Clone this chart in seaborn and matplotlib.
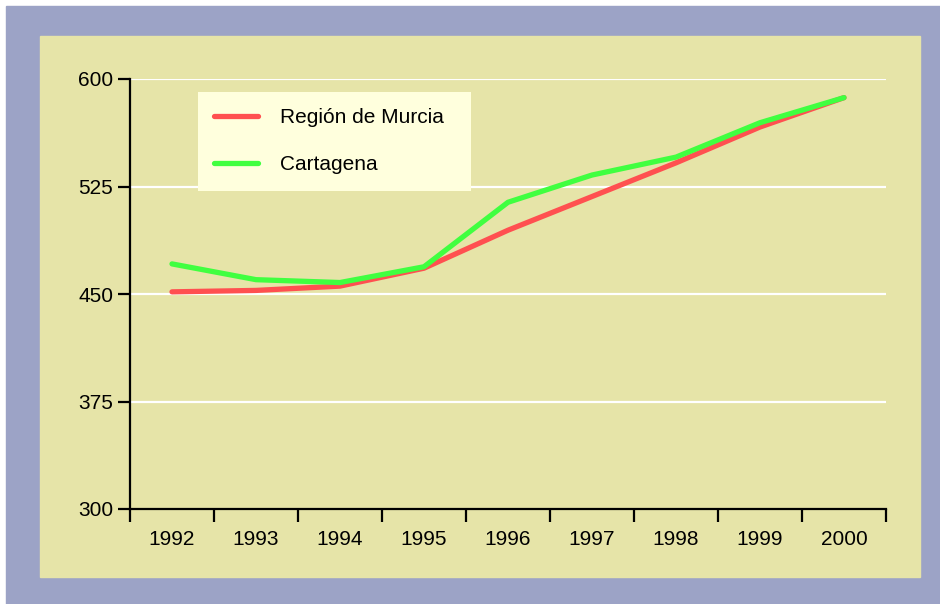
import pandas as pd
import matplotlib.pyplot as plt
import matplotlib.patches as mpatches
from matplotlib.ticker import FixedLocator
import seaborn as sns

# -------------------------------------------------------------------
# Datos
# -------------------------------------------------------------------
years = ['1992', '1993', '1994', '1995', '1996', '1997', '1998', '1999', '2000']
murcia = [451.5, 452.5, 455.5, 468.0, 494.5, 518.0, 541.5, 566.5, 587.0]
cartagena = [471.0, 460.0, 458.0, 469.0, 514.0, 533.0, 545.5, 569.5, 587.0]
series_names = ['Región de Murcia', 'Cartagena']
y_ticks = [300, 375, 450, 525, 600]

df = pd.DataFrame({
    'year': years * 2,
    'value': murcia + cartagena,
    'serie': [series_names[0]] * len(years) + [series_names[1]] * len(years),
})

# -------------------------------------------------------------------
# Estilo
# -------------------------------------------------------------------
sns.set_style('white')
plt.rcParams['font.family'] = ['Liberation Sans', 'DejaVu Sans']
plt.rcParams['text.color'] = 'black'

OUTER = '#9CA3C6'
PANEL = '#E6E4A8'
LEGBG = '#FFFFDD'
palette = {series_names[0]: '#FF5050', series_names[1]: '#40FF40'}

fig = plt.figure(figsize=(9.4, 6.04), dpi=100)
fig.patch.set_facecolor('white')
fig.patches.append(mpatches.Rectangle((6 / 940, 0), 934 / 940, 598 / 604,
                                      transform=fig.transFigure, color=OUTER, zorder=-2))
fig.patches.append(mpatches.Rectangle((40 / 940, 27 / 604), 880 / 940, 541 / 604,
                                      transform=fig.transFigure, color=PANEL, zorder=-1))

ax = fig.add_axes([130 / 940, 95 / 604, 756 / 940, 430 / 604])
ax.set_facecolor('none')

sns.lineplot(data=df, x='year', y='value', hue='serie', palette=palette,
             linewidth=3.8, sort=False, ax=ax, solid_capstyle='round')

ax.set_xlim(-0.5, len(years) - 0.5)
ax.set_ylim(300, 600)
ax.set_yticks(y_ticks)
ax.set_xticks(range(len(years)))
ax.set_xticklabels(years)
ax.xaxis.set_minor_locator(FixedLocator([i - 0.5 for i in range(len(years) + 1)]))

for yv in y_ticks[1:]:
    ax.axhline(yv, color='white', linewidth=1.6, zorder=0)

for s in ['top', 'right']:
    ax.spines[s].set_visible(False)
for s in ['left', 'bottom']:
    ax.spines[s].set_color('black')
    ax.spines[s].set_linewidth(1.6)

ax.tick_params(axis='x', which='major', length=0, pad=15, labelsize=15, colors='black')
ax.tick_params(axis='x', which='minor', length=9, width=1.6, color='black', bottom=True)
ax.tick_params(axis='y', which='major', length=9, width=1.6, pad=3, labelsize=15,
               colors='black', left=True)
ax.set_xlabel('')
ax.set_ylabel('')

leg = ax.legend(loc='upper left', bbox_to_anchor=(0.09, 0.97 - 0.4, 0.361, 0.4),
                mode='expand', borderaxespad=0, fontsize=15, frameon=True,
                fancybox=False, framealpha=1, handlelength=2.1, handletextpad=1.05,
                labelspacing=1.35, borderpad=0.78)
leg.get_frame().set_facecolor(LEGBG)
leg.get_frame().set_edgecolor('none')
for line in leg.get_lines():
    line.set_linewidth(3.8)
for txt in leg.get_texts():
    txt.set_color('black')

fig.savefig('out.png', dpi=100, facecolor=fig.get_facecolor())
